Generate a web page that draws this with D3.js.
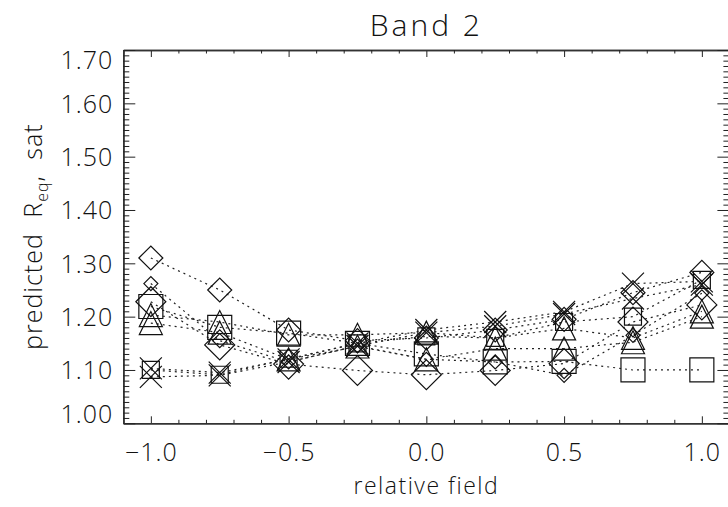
<!DOCTYPE html>
<html>
<head>
<meta charset="utf-8">
<script src="https://cdn.jsdelivr.net/npm/d3@7"></script>
<style>
  body { margin: 0; background: #fff; }
  svg text { font-family: "Open Sans", "DejaVu Sans", sans-serif; font-weight: 300; fill: #111; }
</style>
</head>
<body>
<div class="chart"></div>
<script>
// relative field positions (x) shared by every series
const fieldValues = [-1.0, -0.75, -0.5, -0.25, 0.0, 0.25, 0.5, 0.75, 1.0];

// predicted R_eq, sat, one array per series
const diamondUpper = [1.310, 1.250, 1.175, 1.155, 1.160, 1.175, 1.195, 1.245, 1.283];
const diamondSmall = [1.262, 1.155, 1.115, 1.145, 1.120, 1.115, 1.090, 1.165, 1.244];
const diamondLarge = [1.228, 1.147, 1.111, 1.099, 1.091, 1.099, 1.112, 1.190, 1.222];
const squareLarge  = [1.219, 1.180, 1.169, 1.150, 1.130, 1.115, 1.116, 1.100, 1.100];
const squareSmall  = [1.100, 1.091, 1.121, 1.150, 1.163, 1.160, 1.190, 1.200, 1.269];
const crossUpper   = [1.103, 1.095, 1.120, 1.150, 1.175, 1.190, 1.209, 1.262, 1.266];
const crossLower   = [1.087, 1.090, 1.115, 1.145, 1.170, 1.182, 1.205, 1.234, 1.260];
const triangleUpper = [1.203, 1.190, 1.166, 1.166, 1.170, 1.160, 1.178, 1.160, 1.210];
const triangleLower = [1.188, 1.170, 1.120, 1.144, 1.120, 1.140, 1.140, 1.152, 1.200];

const seriesValues  = [diamondUpper, diamondSmall, diamondLarge, squareLarge, squareSmall,
                       crossUpper, crossLower, triangleUpper, triangleLower];
const seriesSymbols = ['diamond', 'diamond', 'diamond', 'square', 'square',
                       'cross', 'cross', 'triangle', 'triangle'];
const symbolSizes   = [12, 7, 15, 12, 8.5, 11, 11, 11.5, 11.5]; // half size in px

const xMajorTicks = [-1.0, -0.5, 0.0, 0.5, 1.0];
const yMajorTicks = [1.0, 1.1, 1.2, 1.3, 1.4, 1.5, 1.6, 1.7];

const width = 728, height = 507;
const margin = {top: 50, left: 123.3, right: 729.4, bottom: 423.3};

const svg = d3.select('.chart').append('svg')
  .attr('width', width).attr('height', height);

const x = d3.scaleLinear().domain([-1.1, 1.1]).range([margin.left, margin.right]);
const y = d3.scaleLinear().domain([1.0, 1.7]).range([margin.bottom, margin.top]);

const xMinor = d3.range(-11, 12).map(d => d / 10).filter(d => !xMajorTicks.some(m => Math.abs(m - d) < 1e-9));
const yMinor = d3.range(100, 171).map(d => d / 100).filter(d => !yMajorTicks.some(m => Math.abs(m - d) < 1e-9));

// axis styling helper
function styleAxis(g) {
  g.selectAll('path.domain').attr('stroke', '#333').attr('stroke-width', 1.6);
  g.selectAll('.tick line').attr('stroke', '#222').attr('stroke-width', 1);
}

// bottom axis (labels) + minor ticks
svg.append('g').attr('transform', `translate(0,${margin.bottom})`)
  .call(d3.axisBottom(x).tickValues(xMajorTicks).tickSize(-7).tickSizeOuter(0)
    .tickPadding(20).tickFormat(d => d3.format('.1f')(d).replace('-', '\u2212')))
  .call(styleAxis)
  .call(g => g.selectAll('text').attr('font-size', 25).attr('fill', '#111')
    .attr('letter-spacing', 1).style('font-family', '"Open Sans", sans-serif'));
svg.append('g').attr('transform', `translate(0,${margin.bottom})`)
  .call(d3.axisBottom(x).tickValues(xMinor).tickSize(-3.5).tickSizeOuter(0).tickFormat(''))
  .call(styleAxis);

// top axis
svg.append('g').attr('transform', `translate(0,${margin.top})`)
  .call(d3.axisTop(x).tickValues(xMajorTicks).tickSize(-7).tickSizeOuter(0).tickFormat(''))
  .call(styleAxis);
svg.append('g').attr('transform', `translate(0,${margin.top})`)
  .call(d3.axisTop(x).tickValues(xMinor).tickSize(-3.5).tickSizeOuter(0).tickFormat(''))
  .call(styleAxis);

// left axis (labels) + minor ticks
svg.append('g').attr('transform', `translate(${margin.left},0)`)
  .call(d3.axisLeft(y).tickValues(yMajorTicks).tickSize(-12).tickSizeOuter(0)
    .tickPadding(10).tickFormat(d3.format('.2f')))
  .call(styleAxis)
  .call(g => g.selectAll('text').attr('font-size', 25).attr('fill', '#111')
    .attr('letter-spacing', 1).style('font-family', '"Open Sans", sans-serif')
    .attr('dy', d => d === 1.7 ? '0.72em' : d === 1.0 ? '-0.02em' : '0.35em'));
svg.append('g').attr('transform', `translate(${margin.left},0)`)
  .call(d3.axisLeft(y).tickValues(yMinor).tickSize(-6).tickSizeOuter(0).tickFormat(''))
  .call(styleAxis);

// right axis
svg.append('g').attr('transform', `translate(${margin.right},0)`)
  .call(d3.axisRight(y).tickValues(yMajorTicks).tickSize(-12).tickSizeOuter(0).tickFormat(''))
  .call(styleAxis);
svg.append('g').attr('transform', `translate(${margin.right},0)`)
  .call(d3.axisRight(y).tickValues(yMinor).tickSize(-6).tickSizeOuter(0).tickFormat(''))
  .call(styleAxis);

// symbol path in IDL style, centred on (0,0)
function symbolPath(type, s) {
  if (type === 'diamond') return `M${-s},0L0,${-s}L${s},0L0,${s}Z`;
  if (type === 'square') return `M${-s},${-s}H${s}V${s}H${-s}Z`;
  if (type === 'triangle') return `M${-s},${s}L0,${-s}L${s},${s}Z`;
  return `M${-s},${-s}L${s},${s}M${-s},${s}L${s},${-s}`;
}

const line = d3.line().x(d => x(d[0])).y(d => y(d[1]));
const plot = svg.append('g');

seriesValues.forEach((vals, i) => {
  const pts = fieldValues.map((f, j) => [f, vals[j]]);
  plot.append('path')
    .attr('d', line(pts))
    .attr('fill', 'none').attr('stroke', '#222').attr('stroke-width', 1.2)
    .attr('stroke-dasharray', '2,4');
  plot.selectAll(null).data(pts).enter().append('path')
    .attr('transform', d => `translate(${x(d[0])},${y(d[1])})`)
    .attr('d', symbolPath(seriesSymbols[i], symbolSizes[i]))
    .attr('fill', 'none').attr('stroke', '#111').attr('stroke-width', 1.2);
});

// title and axis titles
svg.append('text')
  .attr('x', (margin.left + margin.right) / 2).attr('y', 36)
  .attr('text-anchor', 'middle').attr('font-size', 30).attr('letter-spacing', 3)
  .text('Band 2');

svg.append('text')
  .attr('x', (margin.left + margin.right) / 2).attr('y', 494)
  .attr('text-anchor', 'middle').attr('font-size', 23).attr('letter-spacing', 1.5)
  .text('relative field');

const ylab = svg.append('text')
  .attr('transform', `translate(42,${(margin.top + margin.bottom) / 2}) rotate(-90)`)
  .attr('text-anchor', 'middle').attr('font-size', 25)
  .attr('letter-spacing', 1).attr('word-spacing', 8);
ylab.append('tspan').text('predicted R');
ylab.append('tspan').attr('font-size', 16).attr('dy', 6).text('eq');
ylab.append('tspan').attr('dy', -6).text(', sat');
</script>
</body>
</html>
